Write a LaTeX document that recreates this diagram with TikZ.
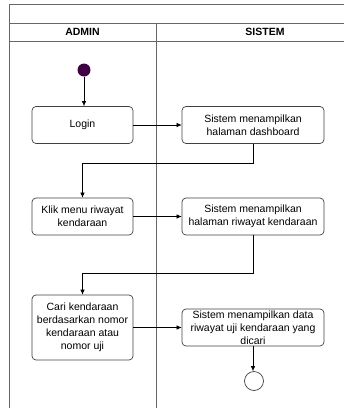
\documentclass[tikz,border=0pt]{standalone}
\usepackage{fontspec}
\setmainfont{Liberation Sans}
\usetikzlibrary{arrows.meta, positioning}
\definecolor{viola}{RGB}{64,0,68}

\begin{document}
\begin{tikzpicture}[x = 1pt, y = -1pt,
    font = \fontsize{10.5}{13}\selectfont,
    azione/.style = {draw = black!75, line width = 0.7pt, rounded corners = 4pt, align = center, inner sep = 1pt, minimum height = 37pt},
    corsia/.style = {draw = black!60, line width = 1pt},
    freccia/.style = {-{Latex[length = 5pt, width = 4.5pt]}, line width = 0.6pt}]
    \useasboundingbox (0,0) rectangle (344,408);
    % Parametri
    \pgfmathsetmacro{\xA}{82.5}
    \pgfmathsetmacro{\xS}{253}
    % Corsie
    \draw[corsia] (9,4) rectangle (374,420);
    \draw[corsia] (9,23) -- (374,23);
    \draw[corsia] (9,41) -- (374,41);
    \draw[corsia] (156,23) -- (156,420);
    \node[font = \fontsize{10.5}{12}\bfseries] (admin) at (\xA,32) {ADMIN};
    \node[font = \fontsize{10.5}{12}\bfseries] (sistem) at (265,32) {SISTEM};
    % Stati iniziale e finale
    \fill[viola] (84,70) circle (6.5) coordinate (inizio);
    \node[circle, draw = black!75, line width = 0.7pt, minimum size = 19pt, inner sep = 0pt] (fine) at (254,381) {};
    % Azioni
    \node[azione, minimum width = 101pt] (login) at (\xA,125) {Login};
    \node[azione, minimum width = 142pt] (dashboard) at (\xS,125) {Sistem menampilkan\\halaman dashboard};
    \node[azione, minimum width = 101pt] (klik) at (\xA,216.5) {Klik menu riwayat\\kendaraan};
    \node[azione, minimum width = 142pt] (riwayat) at (\xS,216.5) {Sistem menampilkan\\halaman riwayat kendaraan};
    \node[azione, minimum width = 101pt, minimum height = 65pt] (cari) at (\xA,327.5) {Cari kendaraan\\berdasarkan nomor\\kendaraan atau\\nomor uji};
    \node[azione, minimum width = 142pt] (data) at (\xS,327.5) {Sistem menampilkan data\\riwayat uji kendaraan yang\\dicari};
    % Transizioni
    \draw[freccia] ([yshift = -6.5pt]inizio) -- (login.north -| inizio);
    \draw[freccia] (login) -- (dashboard);
    \draw[freccia] (dashboard.south) -- ++(0,19) -| (klik.north);
    \draw[freccia] (klik) -- (riwayat);
    \draw[freccia] (riwayat.south) -- ++(0,38) -| (cari.north);
    \draw[freccia] (cari) -- (data);
    \draw[freccia] (data.south) -- (fine.north -| data.south);
\end{tikzpicture}
\end{document}
